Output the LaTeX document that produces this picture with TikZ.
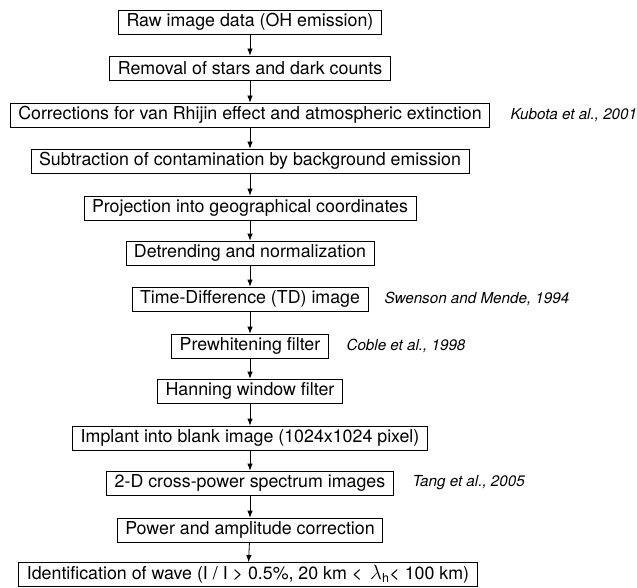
\documentclass[tikz,border=0pt]{standalone}
\usepackage{fontspec}
\setmainfont{TeX Gyre Heros}
\usetikzlibrary{arrows.meta}

\begin{document}
\begin{tikzpicture}[x=1pt,y=-1pt,
  procbox/.style={draw, line width=0.8pt, minimum height=24pt, inner xsep=8pt, inner ysep=0pt, font=\fontsize{17.8}{19}\selectfont},
  ref/.style={anchor=west, font=\fontsize{15.2}{17}\selectfont\itshape}]
\useasboundingbox (0,0) rectangle (637,588);
\node[procbox](raw) at (250,22){Raw image data (OH emission)};
\node[procbox](stars) at (250,68){Removal of stars and dark counts};
\node[procbox](rhijin) at (250,115){Corrections for van Rhijin effect and atmospheric extinction};
\node[procbox](backgr) at (250,161){Subtraction of contamination by background emission};
\node[procbox](proj) at (250,208){Projection into geographical coordinates};
\node[procbox](detrend) at (250,253){Detrending and normalization};
\node[procbox](td) at (250,299){Time-Difference (TD) image};
\node[procbox](prewhite) at (250,346){Prewhitening filter};
\node[procbox](hanning) at (250,391){Hanning window filter};
\node[procbox](implant) at (250,438){Implant into blank image (1024x1024 pixel)};
\node[procbox](xspec) at (250,483){2-D cross-power spectrum images};
\node[procbox](ampl) at (250,530){Power and amplitude correction};
\node[procbox](ident) at (248,574.5){Identification of wave (I / I > 0.5\%, 20 km < \,{\fontsize{22}{22}\selectfont$\lambda$}\textsubscript{h}< 100 km)};
\node[ref](kubota) at (507,115){Kubota et al., 2001};
\node[ref](swenson) at (381,299){Swenson and Mende, 1994};
\node[ref](coble) at (343,346){Coble et al., 1998};
\node[ref](tang) at (409,483){Tang et al., 2005};
\foreach \from/\to in {raw/stars,stars/rhijin,rhijin/backgr,backgr/proj,proj/detrend,detrend/td,td/prewhite,prewhite/hanning,hanning/implant,implant/xspec,xspec/ampl,ampl/ident}
 \draw[-{Latex[length=7pt,width=5.5pt]}, line width=0.8pt] (\from) -- (\to);
\end{tikzpicture}
\end{document}
